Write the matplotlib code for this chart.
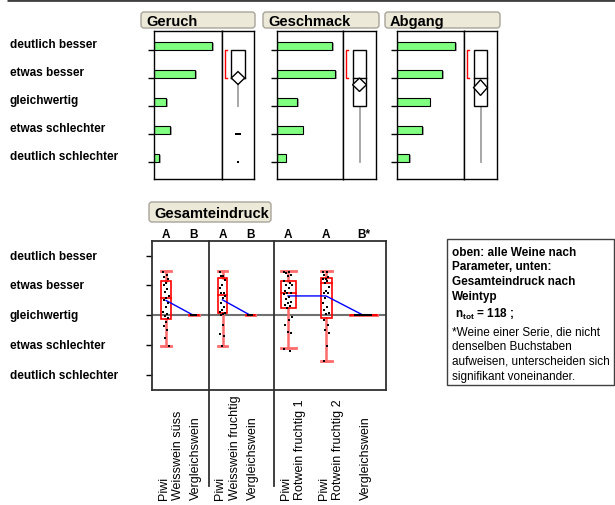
import numpy as np
import matplotlib.pyplot as plt
import matplotlib.patheffects as pe
from matplotlib.patches import Rectangle, FancyBboxPatch, Polygon
from matplotlib.transforms import blended_transform_factory

plt.rcParams['font.family'] = ['Liberation Sans', 'DejaVu Sans']
plt.rcParams['mathtext.fontset'] = 'custom'
plt.rcParams['mathtext.rm'] = 'Liberation Sans'
plt.rcParams['mathtext.bf'] = 'Liberation Sans:bold'

#Data
ratings = ["deutlich besser", "etwas besser", "gleichwertig", "etwas schlechter", "deutlich schlechter"]
rating_values = [2, 1, 0, -1, -2]
params = ["Geruch", "Geschmack", "Abgang"]

#share of answers per rating (percent)
geruch_pct = [44.0, 31.0, 9.0, 12.0, 4.0]
geschmack_pct = [33.0, 34.6, 11.9, 15.3, 5.2]
abgang_pct = [33.6, 26.0, 18.9, 14.4, 7.1]

#box plot summaries of the top panels: q1, median, q3, whisker low, whisker high
top_q1 = [1, 0, 0]
top_median = [1, 1, 1]
top_q3 = [2, 2, 2]
top_whisk_lo = [0, -2, -2]
top_whisk_hi = [2, 2, 2]
top_ci = [0.23, 0.24, 0.28]
shortest_half = [(1, 2), (1, 2), (1, 2)]
top_outliers = [[-1, -1, -1, -2], [], []]

#Gesamteindruck by wine type
wine_labels = ["Piwi\nWeisswein süss", "Vergleichswein",
               "Piwi\nWeisswein fruchtig", "Vergleichswein",
               "Piwi\nRotwein fruchtig 1", "Piwi\nRotwein fruchtig 2", "Vergleichswein"]
wine_groups = [0, 0, 1, 1, 2, 2, 2]
letters = ["A", "B", "A", "B", "A", "A", "B*"]

pts_ws_piwi = [1.46, 1.35, 1.30, 1.21, 1.07, 1.02, 0.87, 0.79, 0.66, 0.57, 0.51,
               0.40, 0.29, 0.12, 0.04, -0.02, -0.08, -0.21, -0.36, -0.49, -0.77, -1.03]
pts_ws_vgl = [0.0, 0.0, 0.0, 0.0, 0.0, 0.0, 0.0, 0.0]
pts_wf_piwi = [1.46, 1.32, 1.32, 1.18, 1.02, 0.90, 0.76, 0.74, 0.66, 0.57, 0.40,
               0.29, 0.18, 0.12, 0.04, 0.01, 0.07, -0.32, -0.63, -0.70, -1.03]
pts_wf_vgl = [0.0, 0.0, 0.0, 0.0, 0.0, 0.0, 0.0, 0.0]
pts_rf1_piwi = [1.46, 1.46, 1.41, 1.35, 1.32, 1.16, 1.09, 1.02, 1.02, 0.90, 0.83, 0.74,
                0.74, 0.70, 0.62, 0.54, 0.46, 0.40, 0.35, 0.31, 0.26, -0.05, -0.14,
                -0.33, -0.58, -0.55, -1.12, -1.21]
pts_rf2_piwi = [1.46, 1.46, 1.35, 1.27, 1.21, 1.21, 1.16, 1.07, 0.96, 0.83, 0.76, 0.74,
                0.57, 0.40, 0.29, 0.18, 0.09, 0.04, -0.16, -0.33, -0.49, -0.58, -1.04, -1.54]
pts_rf_vgl = [0.0, 0.0, 0.0, 0.0, 0.0, 0.0, 0.0, 0.0, 0.0, 0.0,
              0.0, 0.0, 0.0, 0.0, 0.0, 0.0, 0.0, 0.0, 0.0, 0.0]
wine_points = [pts_ws_piwi, pts_ws_vgl, pts_wf_piwi, pts_wf_vgl, pts_rf1_piwi, pts_rf2_piwi, pts_rf_vgl]

wine_q1 = [-0.12, 0, 0.07, 0, 0.23, -0.10, 0]
wine_median = [0.57, 0, 0.68, 0, 0.74, 1.08, 0]
wine_q3 = [1.16, 0, 1.24, 0, 1.16, 1.24, 0]
wine_whisk_lo = [-1.01, 0, -1.01, 0, -1.11, -1.52, 0]
wine_whisk_hi = [1.50, 0, 1.50, 0, 1.50, 1.50, 0]
wine_mean = [0.50, 0.0, 0.52, 0.0, 0.65, 0.65, 0.0]

#Layout (pixels)
W, H = 615, 506
top_panels = [(154, 222, 254), (277, 343, 376), (397, 464, 497)]
header_boxes = [(141, 255), (263, 379), (385, 500)]
bar_xmax = [51.5, 39.4, 38.7]
wine_pos = [166, 193.5, 222.5, 250.5, 288, 326, 363.5]
wine_width = [9.5, 10, 9.6, 9, 15, 11, 27]


def fig_rect(x0, y0, x1, y1):
    return [x0 / W, 1 - y1 / H, (x1 - x0) / W, (y1 - y0) / H]


fig = plt.figure(figsize=(W / 100, H / 100), dpi=100)

#background axes in pixel coordinates for headers, labels and the note
bg = fig.add_axes([0, 0, 1, 1])
bg.set_xlim(0, W)
bg.set_ylim(H, 0)
bg.axis('off')
bg.set_zorder(10)
bg.patch.set_visible(False)

bg.plot([7, W], [1, 1], color='#404040', lw=2, solid_capstyle='butt')


def header(x0, x1, y0, y1, text):
    bg.add_patch(FancyBboxPatch((x0, y0), x1 - x0, y1 - y0, boxstyle="round,pad=0,rounding_size=3",
                                fc='#ECE9D8', ec='#A8A49A', lw=1))
    bg.text(x0 + 5, (y0 + y1) / 2 + 0.5, text, fontsize=10.5, fontweight='bold', va='center', ha='left')


#Top panels: bars + box plot
all_pct = [geruch_pct, geschmack_pct, abgang_pct]
for k in range(3):
    x0, xd, x1 = top_panels[k]
    header(header_boxes[k][0], header_boxes[k][1], 13, 29, params[k])

    axb = fig.add_axes(fig_rect(x0, 32, xd, 180))
    axb.barh(rating_values, all_pct[k], height=0.29, align='edge', color='#80FF80', edgecolor='black',
             lw=0.8, path_effects=[pe.SimplePatchShadow(offset=(1.2, -1.2), shadow_rgbFace='#909090', alpha=0.8),
                                   pe.Normal()])
    axb.set_ylim(-2.62, 2.67)
    axb.set_xlim(0, bar_xmax[k])
    axb.set_yticks(rating_values)
    axb.set_yticklabels([])
    axb.set_xticks([])
    axb.tick_params(axis='y', length=4, width=1, direction='out')
    for s in axb.spines.values():
        s.set_linewidth(1)

    if k == 0:
        tr = blended_transform_factory(bg.transData, axb.transData)
        for lab, v in zip(ratings, rating_values):
            bg.text(10, v + 0.2, lab, transform=tr, fontsize=8.5, fontweight='bold', va='center', ha='left')

    axp = fig.add_axes(fig_rect(xd, 32, x1, 180))
    axp.set_ylim(-2.62, 2.67)
    axp.set_xlim(0, 1)
    axp.set_xticks([])
    axp.set_yticks([])
    for s in axp.spines.values():
        s.set_linewidth(1)

    cx, hw = 0.5, 0.21
    mean = np.dot(all_pct[k], rating_values) / np.sum(all_pct[k])
    axp.plot([cx, cx], [top_whisk_lo[k], top_q1[k]], color='#A0A0A0', lw=1.3, zorder=1)
    axp.plot([cx, cx], [top_q3[k], top_whisk_hi[k]], color='#A0A0A0', lw=1.3, zorder=1)
    axp.add_patch(Rectangle((cx - hw, top_q1[k]), 2 * hw, top_q3[k] - top_q1[k], fc='white', ec='black', lw=1, zorder=2))
    axp.plot([cx - hw, cx + hw], [top_median[k], top_median[k]], color='black', lw=1, zorder=3)
    ci = top_ci[k]
    axp.add_patch(Polygon([(cx - hw, mean), (cx, mean + ci), (cx + hw, mean), (cx, mean - ci)],
                          closed=True, fc='white', ec='black', lw=1, zorder=4))
    lo, hi = shortest_half[k]
    axp.plot([0.16, 0.1, 0.1, 0.16], [hi, hi, lo, lo], color='red', lw=1, zorder=3)
    outl = top_outliers[k]
    for v in sorted(set(outl)):
        n = outl.count(v)
        xs = cx + (np.arange(n) - (n - 1) / 2) * 0.07
        axp.plot(xs, [v] * n, 's', color='black', ms=2, mew=0, zorder=5)

#Bottom panel: Gesamteindruck
header(149, 271, 203, 223, "Gesamteindruck")
ax = fig.add_axes(fig_rect(152, 241.7, 386, 391))
ax.set_facecolor('none')
ax.set_xlim(152, 386)
ax.set_ylim(-2.5, 2.5)
ax.set_yticks(rating_values)
ax.set_yticklabels([])
ax.set_xticks([])
ax.tick_params(axis='y', length=4, width=1, direction='out')
for s in ax.spines.values():
    s.set_linewidth(1.3)
    s.set_color('#303030')
ax.axhline(0, color='#707070', lw=1.5, zorder=1)

for i in range(len(wine_labels)):
    x, w = wine_pos[i], wine_width[i]
    q1, med, q3 = wine_q1[i], wine_median[i], wine_q3[i]
    lo, hi = wine_whisk_lo[i], wine_whisk_hi[i]
    wc = '#FF6A6A'
    ax.plot([x, x], [lo, q1], color=wc, lw=1.8, zorder=2)
    ax.plot([x, x], [q3, hi], color=wc, lw=1.8, zorder=2)
    ax.plot([x - w / 2, x + w / 2], [lo, lo], color=wc, lw=2, zorder=2)
    ax.plot([x - w / 2, x + w / 2], [hi, hi], color=wc, lw=2, zorder=2)
    ax.add_patch(Rectangle((x - w / 2, q1), w, q3 - q1, fill=False, ec='red', lw=1.2, zorder=3))
    ax.plot([x - w / 2, x + w / 2], [med, med], color='red', lw=1.2, zorder=3)
    pts = wine_points[i]
    n = len(pts)
    jit = ((np.arange(n) * 0.618) % 1 - 0.5) * w * 0.6
    ax.plot(x + jit, pts, 's', color='black', ms=2, mew=0, zorder=5)

for g in sorted(set(wine_groups)):
    idx = [i for i in range(len(wine_groups)) if wine_groups[i] == g]
    ax.plot([wine_pos[i] for i in idx], [wine_mean[i] for i in idx], color='blue', lw=1, zorder=4)

trx = blended_transform_factory(ax.transData, bg.transData)
for i in range(len(wine_labels)):
    bg.text(wine_pos[i], 235, letters[i], transform=trx, fontsize=8.5, fontweight='bold', ha='center', va='center')
    off = 5 if "\n" in wine_labels[i] else 2.5
    bg.text(wine_pos[i] + off, 500, wine_labels[i], transform=trx, fontsize=9, rotation=90,
            ha='center', va='bottom', multialignment='left', linespacing=1.32)

for xd in [208.5, 273.5]:
    bg.plot([xd, xd], [241.7, 487], color='#303030', lw=1.3)

tr = blended_transform_factory(bg.transData, ax.transData)
for lab, v in zip(ratings, rating_values):
    bg.text(10, v, lab, transform=tr, fontsize=8.5, fontweight='bold', va='center', ha='left')

#Note box
bg.add_patch(Rectangle((447, 240), 167, 146, fill=False, ec='#404040', lw=1))
bg.text(452, 246.5, "oben: alle Weine nach\nParameter, unten:\nGesamteindruck nach\nWeintyp",
        fontsize=8.5, fontweight='bold', va='top', ha='left', linespacing=1.33)
bg.text(455, 314, r"n$_{\mathbf{tot}}$ = 118 ;", fontsize=8.5, fontweight='bold', va='center', ha='left')
bg.text(452, 326.5, "*Weine einer Serie, die nicht\ndenselben Buchstaben\naufweisen, unterscheiden sich\nsignifikant voneinander.",
        fontsize=8.5, va='top', ha='left', linespacing=1.3)

plt.savefig("out.png", dpi=100)
